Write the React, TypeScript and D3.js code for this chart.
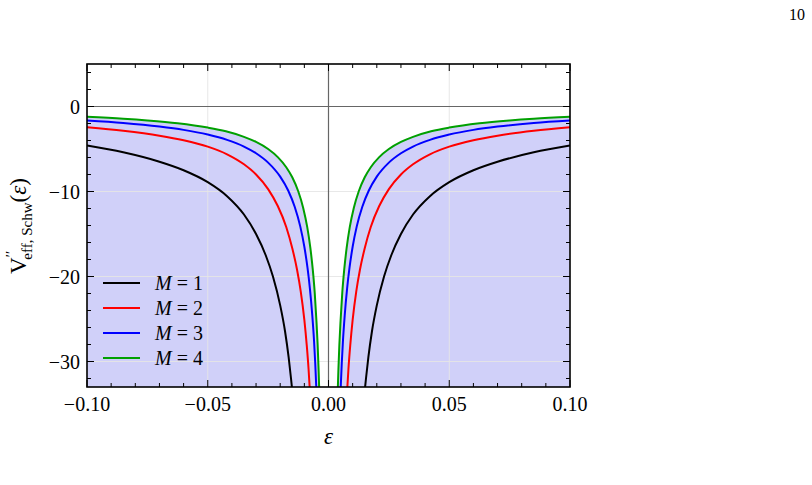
import React from 'react';
import * as d3 from 'd3';

const eps1 = [0.1, 0.085, 0.07, 0.06, 0.05, 0.042, 0.035, 0.03, 0.026, 0.023, 0.02, 0.018, 0.0165, 0.0155, 0.0145, 0.0135];
const val1 = [-4.6, -5.39, -6.5, -7.5, -8.9, -10.55, -12.71, -15.0, -17.5, -20.0, -23.4, -26.44, -29.52, -32.06, -34.83, -37.93];

const eps2 = [0.1, 0.085, 0.07, 0.06, 0.05, 0.042, 0.035, 0.03, 0.025, 0.021, 0.0175, 0.015, 0.013, 0.0115, 0.01, 0.009, 0.00825, 0.00775, 0.00725, 0.00675];
const val2 = [-2.43, -2.85, -3.43, -3.97, -4.72, -5.62, -6.8, -8.0, -9.72, -11.71, -14.17, -16.67, -19.23, -21.74, -25.1, -28.11, -30.91, -33.29, -36.0, -39.1];

const eps3 = [0.1, 0.085, 0.07, 0.06, 0.05, 0.042, 0.035, 0.03, 0.025, 0.02, 0.0167, 0.014, 0.0117, 0.01, 0.0087, 0.0077, 0.0067, 0.006, 0.0055, 0.0051, 0.0047, 0.0044];
const val3 = [-1.65, -1.94, -2.36, -2.75, -3.3, -3.93, -4.71, -5.5, -6.6, -8.25, -9.88, -11.79, -14.1, -16.5, -18.97, -21.43, -24.63, -27.5, -30.18, -32.75, -35.53, -37.95];

const eps4 = [0.1, 0.085, 0.075, 0.0625, 0.05, 0.0425, 0.035, 0.03, 0.025, 0.021, 0.0175, 0.015, 0.0125, 0.0105, 0.0088, 0.0075, 0.0065, 0.0057, 0.005, 0.0045, 0.0041, 0.0038, 0.0035, 0.0033];
const val4 = [-1.22, -1.44, -1.64, -1.97, -2.48, -2.92, -3.57, -4.17, -5.0, -5.95, -7.14, -8.33, -10.0, -11.9, -14.2, -16.67, -19.23, -21.93, -25.2, -28.0, -30.98, -33.68, -36.57, -39.09];

const seriesLabels = ['1', '2', '3', '4'];
const seriesColors = ['#000000', '#ff0000', '#0000ff', '#00a000'];

const xTicks = [-0.1, -0.05, 0, 0.05, 0.1];
const xTickLabels = ['\u22120.10', '\u22120.05', '0.00', '0.05', '0.10'];
const yTicks = [0, -10, -20, -30];
const yTickLabels = ['0', '\u221210', '\u221220', '\u221230'];

const W = 812;
const H = 485;
const L = 87, R = 570, T = 64, B = 387;
const serif = '"Liberation Serif", "DejaVu Serif", serif';

export default function App() {
    const x = d3.scaleLinear().domain([-0.1, 0.1]).range([L, R]);
    const y = d3.scaleLinear().domain([-33, 5]).range([B, T]);

    const raw = [[eps1, val1], [eps2, val2], [eps3, val3], [eps4, val4]];
    // two branches per curve (curves are symmetric in ε), each sorted by ε
    const branches = raw.map(([e, v]) => {
        const right = e.map((d, i) => [d, v[i]] as [number, number]).sort((a, b) => a[0] - b[0]);
        const left = e.map((d, i) => [-d, v[i]] as [number, number]).sort((a, b) => a[0] - b[0]);
        return [left, right];
    });

    const line = d3.line<[number, number]>()
        .x((d) => x(d[0]))
        .y((d) => y(d[1]))
        .curve(d3.curveMonotoneX);
    const area = d3.area<[number, number]>()
        .x((d) => x(d[0]))
        .y0(B + 5)
        .y1((d) => y(d[1]))
        .curve(d3.curveMonotoneX);

    const xMinor = d3.range(-10, 11).map((i) => i / 100);
    const yMinor = d3.range(-32, 6, 2);

    return (
        <svg width={W} height={H} style={{ position: 'absolute', left: 0, top: 0, background: '#fff' }}>
            <defs>
                <clipPath id="plot">
                    <rect x={L} y={T} width={R - L} height={B - T} />
                </clipPath>
            </defs>
            <text x={805} y={20} textAnchor="end" fontFamily={serif} fontSize={16}>10</text>

            <g clipPath="url(#plot)">
                {/* shaded region below the M = 4 curve */}
                {branches[3].map((b, i) => (
                    <path key={i} d={area(b) ?? ''} fill="#d0d0f9" />
                ))}
                {/* grid */}
                {xTicks.filter((t) => t !== 0).map((t) => (
                    <line key={t} x1={x(t)} x2={x(t)} y1={T} y2={B} stroke="#e6e6e6" strokeWidth={1} opacity={0.9} />
                ))}
                {yTicks.filter((t) => t !== 0).map((t) => (
                    <line key={t} x1={L} x2={R} y1={y(t)} y2={y(t)} stroke="#e6e6e6" strokeWidth={1} opacity={0.9} />
                ))}
                <line x1={L} x2={R} y1={y(0)} y2={y(0)} stroke="#666" strokeWidth={1.2} />
                <line x1={x(0)} x2={x(0)} y1={T} y2={B} stroke="#666" strokeWidth={1.2} />
                {branches.map((br, k) =>
                    br.map((b, i) => (
                        <path key={`${k}-${i}`} d={line(b) ?? ''} fill="none" stroke={seriesColors[k]} strokeWidth={2} />
                    ))
                )}
            </g>

            {/* ticks, inward on all sides */}
            {xMinor.map((t) => {
                const major = xTicks.some((m) => Math.abs(m - t) < 1e-9);
                const len = major ? 7 : 4;
                return (
                    <g key={t}>
                        <line x1={x(t)} x2={x(t)} y1={B} y2={B - len} stroke="#000" strokeWidth={1} />
                        <line x1={x(t)} x2={x(t)} y1={T} y2={T + len} stroke="#000" strokeWidth={1} />
                    </g>
                );
            })}
            {yMinor.map((t) => {
                const len = yTicks.includes(t) ? 7 : 4;
                return (
                    <g key={t}>
                        <line x1={L} x2={L + len} y1={y(t)} y2={y(t)} stroke="#000" strokeWidth={1} />
                        <line x1={R} x2={R - len} y1={y(t)} y2={y(t)} stroke="#000" strokeWidth={1} />
                    </g>
                );
            })}
            <rect x={L} y={T} width={R - L} height={B - T} fill="none" stroke="#000" strokeWidth={1.6} />

            {xTicks.map((t, i) => (
                <text key={t} x={x(t)} y={411} textAnchor="middle" fontFamily={serif} fontSize={20}>{xTickLabels[i]}</text>
            ))}
            {yTicks.map((t, i) => (
                <text key={t} x={80} y={y(t) + 7} textAnchor="end" fontFamily={serif} fontSize={20}>{yTickLabels[i]}</text>
            ))}

            <text x={x(0)} y={444} textAnchor="middle" fontFamily={serif} fontSize={23} fontStyle="italic">ε</text>

            <g transform="translate(26,226) rotate(-90)">
                <text x={0} y={0} textAnchor="middle" fontFamily={serif} fontSize={23}>
                    <tspan>V</tspan>
                    <tspan fontSize={15} dy={-10}>′′</tspan>
                    <tspan fontSize={15} dx={-9} dy={16}>eff, Schw</tspan>
                    <tspan dy={-6}>(</tspan>
                    <tspan fontStyle="italic">ε</tspan>
                    <tspan>)</tspan>
                </text>
            </g>

            {seriesLabels.map((s, i) => {
                const ly = 283 + i * 25;
                return (
                    <g key={s}>
                        <line x1={103} x2={140} y1={ly} y2={ly} stroke={seriesColors[i]} strokeWidth={2} />
                        <text x={155} y={ly + 7} fontFamily={serif} fontSize={20}>
                            <tspan fontStyle="italic">M</tspan>
                            <tspan> = {s}</tspan>
                        </text>
                    </g>
                );
            })}
        </svg>
    );
}
